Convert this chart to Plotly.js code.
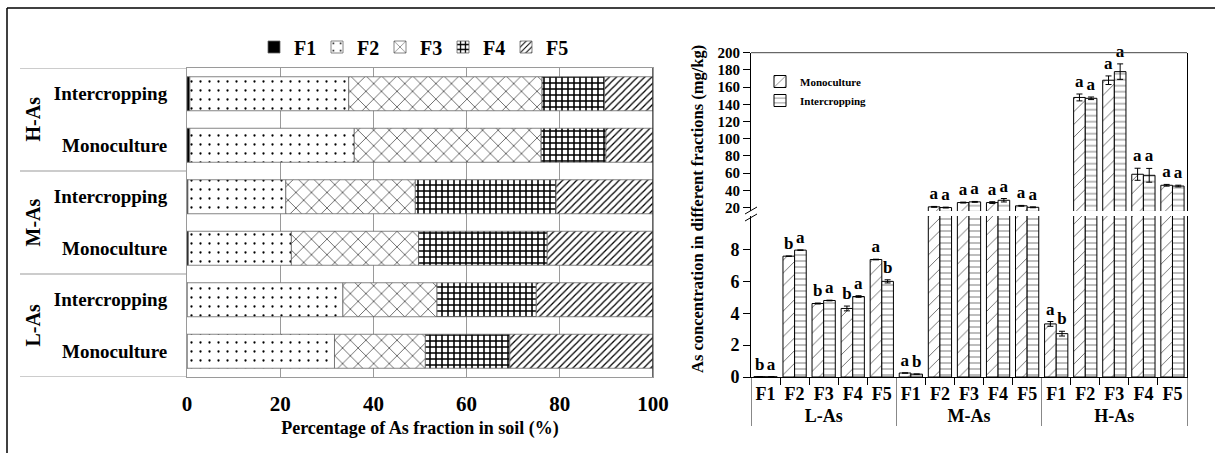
<!DOCTYPE html>
<html><head><meta charset="utf-8">
<script src="https://cdn.plot.ly/plotly-3.0.1.min.js"></script>
<style>html,body{margin:0;padding:0;background:#fff}#chart{width:1215px;height:453px}</style>
</head><body><div id="chart"></div>
<script>
// ---------- Left chart: percentage of As fractions (rows from bottom to top) ----------
const leftGroups = ['L-As', 'M-As', 'H-As'];
const systems = ['Monoculture', 'Intercropping'];
const fractions = ['F1', 'F2', 'F3', 'F4', 'F5'];
// rows: L-Mono, L-Inter, M-Mono, M-Inter, H-Mono, H-Inter
const pctF1 = [0.05, 0.05, 0.3, 0.2, 0.6, 0.6];
const pctF2 = [31.6, 33.4, 22.1, 21.0, 35.3, 34.1];
const pctF3 = [19.5, 20.2, 27.3, 27.8, 40.1, 41.5];
const pctF4 = [18.1, 21.3, 27.6, 30.2, 13.9, 13.4];
const pctF5 = [30.75, 25.05, 22.7, 20.8, 10.1, 10.4];
const pctTicks = [0, 20, 40, 60, 80, 100];
const pctTitle = 'Percentage of As fraction in soil (%)';

// ---------- Right chart: As concentration (mg/kg) ----------
const concGroups = ['L-As', 'M-As', 'H-As'];
const concFractions = ['F1', 'F2', 'F3', 'F4', 'F5'];
const monoConc  = [0.02, 7.58, 4.61, 4.30, 7.37, 0.25, 20.8, 25.8, 25.8, 22.0, 3.33, 148.0, 168.0, 58.7, 45.9];
const interConc = [0.01, 7.96, 4.80, 5.05, 6.00, 0.18, 20.0, 26.6, 28.5, 20.3, 2.72, 147.0, 178.0, 57.5, 45.0];
const monoErr   = [0, 0, 0.03, 0.15, 0.02, 0, 0.5, 0.5, 1.0, 0.5, 0.15, 4.0, 5.0, 7.0, 1.0];
const interErr  = [0, 0, 0.02, 0.05, 0.10, 0, 0.5, 0.5, 2.0, 0.5, 0.15, 1.5, 9.0, 8.0, 1.0];
const monoLetters  = ['b','b','b','b','a','a','a','a','a','a','a','a','a','a','a'];
const interLetters = ['a','a','a','a','b','b','a','a','a','a','b','a','a','a','a'];
const lowTicks = [0, 2, 4, 6, 8];
const highTicks = [20, 40, 60, 80, 100, 120, 140, 160, 180, 200];
const concTitle = 'As concentration in different fractions (mg/kg)';

// ---------- layout helpers (pixel geometry) ----------
const W = 1215, H = 453;
const px = v => v / W, py = v => 1 - v / H;
const FONT = 'Liberation Serif, Times New Roman, serif';
const bold = (s) => ({family: FONT, size: s, color: '#000', weight: 'bold'});

// rows
const rowPos = [], rowLabels = [];
leftGroups.forEach((g, gi) => systems.forEach((s, si) => { rowPos.push(gi * 2 + si); rowLabels.push(s); }));

const pctSeries = [pctF1, pctF2, pctF3, pctF4, pctF5];
const leftStyles = [
  {color: '#000', pattern: {shape: ''}},
  {color: '#fff', pattern: {shape: '.', size: 9, solidity: 0.05, fgcolor: '#000', bgcolor: '#fff', fillmode: 'replace'}},
  {color: '#fff', pattern: {shape: 'x', size: 11, solidity: 0.1, fgcolor: '#000', bgcolor: '#fff', fillmode: 'replace'}},
  {color: '#fff', pattern: {shape: '+', size: 6, solidity: 0.45, fgcolor: '#000', bgcolor: '#fff', fillmode: 'replace'}},
  {color: '#fff', pattern: {shape: '/', size: 5, solidity: 0.25, fgcolor: '#000', bgcolor: '#fff', fillmode: 'replace'}}
];

const traces = [];
const cum = rowPos.map(() => 0);
pctSeries.forEach((vals, fi) => {
  const base = cum.slice();
  vals.forEach((v, i) => cum[i] += v);
  traces.push({
    type: 'bar', orientation: 'h', name: fractions[fi],
    x: vals, y: rowPos, base: base,
    xaxis: 'x', yaxis: 'y', offsetgroup: 'stack', width: 0.66, offset: -0.33,
    marker: Object.assign({line: {color: '#666', width: 0.8}}, leftStyles[fi]),
    legend: 'legend', hoverinfo: 'skip'
  });
});

// right chart
const catX = [[], []];
concGroups.forEach(g => concFractions.forEach(f => { catX[0].push(g); catX[1].push(f); }));

const LOW_MAX = 10.1, HIGH_MIN = 16, HIGH_MAX = 200;
const rightSeries = [
  {name: 'Monoculture', vals: monoConc, err: monoErr, letters: monoLetters, grp: 'mono',
   pattern: {shape: '/', size: 9, solidity: 0.07, fgcolor: '#222', bgcolor: '#fff', fillmode: 'replace'}},
  {name: 'Intercropping', vals: interConc, err: interErr, letters: interLetters, grp: 'inter',
   pattern: {shape: '-', size: 6, solidity: 0.1, fgcolor: '#222', bgcolor: '#fff', fillmode: 'replace'}}
];
['y2', 'y3'].forEach(ya => {
  rightSeries.forEach(s => {
    traces.push({
      type: 'bar', name: s.name, x: catX, y: s.vals,
      xaxis: 'x2', yaxis: ya, offsetgroup: s.grp,
      error_y: {type: 'data', array: s.err, visible: true, color: '#000', thickness: 1, width: 3},
      marker: {color: '#fff', line: {color: '#000', width: 1}, pattern: s.pattern},
      legend: 'legend2', showlegend: ya === 'y3', hoverinfo: 'skip'
    });
  });
});
// significance letters (placed above each bar + error, on the section where it ends)
['y2', 'y3'].forEach(ya => {
  rightSeries.forEach(s => {
    const tops = s.vals.map((v, i) => {
      const t = v + s.err[i];
      if (ya === 'y2') return t < LOW_MAX ? t : null;
      return t >= HIGH_MIN ? t : null;
    });
    traces.push({
      type: 'bar', x: catX, y: tops, text: s.letters, textposition: 'outside',
      textfont: bold(17), outsidetextfont: bold(17), constraintext: 'none', cliponaxis: false,
      xaxis: 'x2', yaxis: ya, offsetgroup: s.grp,
      marker: {color: 'rgba(0,0,0,0)', line: {width: 0}},
      showlegend: false, hoverinfo: 'skip'
    });
  });
});

const xDom = [px(187), px(653)], yDom = [py(377), py(68)];
const x2Dom = [px(751), px(1187)], y2Dom = [py(377), py(216)], y3Dom = [py(211), py(52.7)];

const shapes = [];
// outer figure frame
shapes.push({type: 'line', xref: 'paper', yref: 'paper', x0: px(7), x1: 1.05, y0: py(8), y1: py(8), line: {color: '#000', width: 1.5}});
shapes.push({type: 'line', xref: 'paper', yref: 'paper', x0: px(7), x1: px(7), y0: py(8), y1: -0.05, line: {color: '#000', width: 1.5}});
// left chart group separators in the label area
[-0.5, 1.5, 3.5, 5.5].forEach(yv => shapes.push({type: 'line', xref: 'paper', yref: 'y', x0: px(20), x1: xDom[0], y0: yv, y1: yv, line: {color: '#999', width: 1}}));
// darker right frame of left chart
shapes.push({type: 'line', xref: 'x', yref: 'paper', x0: 100, x1: 100, y0: yDom[0], y1: yDom[1], line: {color: '#333', width: 1.5}});
// right chart top frame
shapes.push({type: 'line', xref: 'paper', yref: 'paper', x0: x2Dom[0], x1: x2Dom[1], y0: y3Dom[1], y1: y3Dom[1], line: {color: '#444', width: 1}});
// axis break marks
shapes.push({type: 'line', xref: 'paper', yref: 'paper', x0: px(745), x1: px(757), y0: py(214), y1: py(207), line: {color: '#000', width: 1}});
shapes.push({type: 'line', xref: 'paper', yref: 'paper', x0: px(745), x1: px(757), y0: py(221), y1: py(214), line: {color: '#000', width: 1}});

const annotations = [];
leftGroups.forEach((g, gi) => annotations.push({
  text: g, xref: 'paper', yref: 'y', x: px(32), y: gi * 2 + 0.5, xanchor: 'center', yanchor: 'middle',
  textangle: -90, showarrow: false, font: bold(20)
}));
annotations.push({
  text: concTitle, xref: 'paper', yref: 'paper', x: px(697), y: py(209), xanchor: 'center', yanchor: 'middle',
  textangle: -90, showarrow: false, font: bold(16.5)
});

const layout = {
  width: W, height: H, margin: {l: 0, r: 0, t: 0, b: 0},
  paper_bgcolor: '#fff', plot_bgcolor: 'rgba(0,0,0,0)',
  barmode: 'group', bargap: 0.2, bargroupgap: 0,
  font: {family: FONT, color: '#000'},
  xaxis: {domain: xDom, anchor: 'y', range: [0, 100], tickvals: pctTicks, showgrid: true, gridcolor: '#9a9a9a', gridwidth: 1,
    zeroline: false, showline: true, mirror: true, linecolor: '#9a9a9a', linewidth: 1,
    ticks: 'outside', ticklen: 8, tickcolor: 'rgba(0,0,0,0)', tickfont: bold(21),
    title: {text: pctTitle, font: bold(18), standoff: 6}},
  yaxis: {domain: yDom, anchor: 'x', range: [-0.5, 5.5], tickvals: rowPos, ticktext: rowLabels, showgrid: false,
    zeroline: false, showline: true, mirror: true, linecolor: '#9a9a9a', linewidth: 1,
    ticks: 'outside', ticklen: 15, tickcolor: 'rgba(0,0,0,0)', tickfont: bold(19)},
  xaxis2: {domain: x2Dom, anchor: 'y2', type: 'multicategory', showline: true, linecolor: '#000', linewidth: 1,
    ticks: 'outside', ticklen: 7, tickcolor: '#000', tickfont: bold(18), tickangle: 0, showgrid: false,
    showdividers: true, dividercolor: '#888', dividerwidth: 1},
  yaxis2: {domain: y2Dom, anchor: 'x2', range: [0, LOW_MAX], tickvals: lowTicks, showgrid: false, zeroline: false,
    showline: true, mirror: true, linecolor: '#000', linewidth: 1, ticks: 'outside', ticklen: 7, tickcolor: '#000',
    tickfont: bold(18)},
  yaxis3: {domain: y3Dom, anchor: 'x2', range: [HIGH_MIN, HIGH_MAX], tickvals: highTicks, showgrid: false, zeroline: false,
    showline: true, mirror: true, linecolor: '#000', linewidth: 1, ticks: 'outside', ticklen: 7, tickcolor: '#000',
    tickfont: bold(15)},
  legend: {orientation: 'h', x: px(254), y: py(47), xanchor: 'left', yanchor: 'middle', font: bold(20),
    bgcolor: 'rgba(0,0,0,0)', entrywidth: 18, entrywidthmode: 'pixels', itemwidth: 30, traceorder: 'normal'},
  legend2: {orientation: 'v', x: px(760), y: py(67), xanchor: 'left', yanchor: 'top', font: bold(11),
    bgcolor: 'rgba(0,0,0,0)', itemwidth: 30, traceorder: 'normal'},
  shapes: shapes, annotations: annotations
};

Plotly.newPlot('chart', traces, layout, {displayModeBar: false, staticPlot: true});
</script>
</body></html>
